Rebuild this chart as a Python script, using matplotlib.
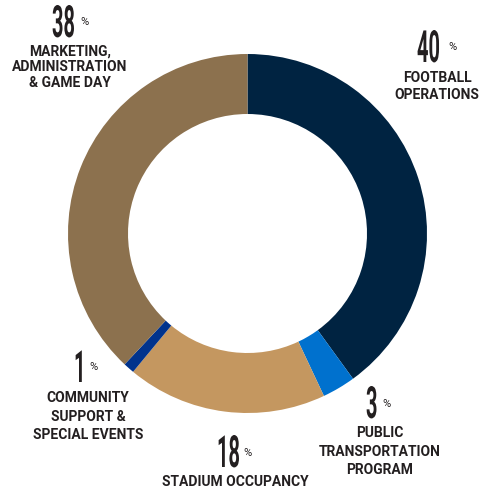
import numpy as np
import matplotlib
matplotlib.use('Agg')
from matplotlib import pyplot as plt
from matplotlib.patheffects import AbstractPathEffect
from matplotlib.transforms import Affine2D

# budget shares, clockwise from the top
shares = [40, 3, 18, 1, 38]
pct_labels = ['40', '3', '18', '1', '38']
names = ['FOOTBALL\nOPERATIONS',
         'PUBLIC\nTRANSPORTATION\nPROGRAM',
         'STADIUM OCCUPANCY',
         'COMMUNITY\nSUPPORT &\nSPECIAL EVENTS',
         'MARKETING,\nADMINISTRATION\n& GAME DAY']
colors = ['#002341', '#0071CE', '#C49760', '#00338D', '#8C714E']


class Stretch(AbstractPathEffect):
    # make glyphs tall and narrow-looking (no condensed display face installed)
    def __init__(self, sy):
        super().__init__()
        self.sy = sy

    def draw_path(self, renderer, gc, tpath, affine, rgbFace=None):
        renderer.draw_path(gc, tpath, Affine2D().scale(1, self.sy) + affine, rgbFace)


W, H = 492, 490
fig = plt.figure(figsize=(W/100, H/100), dpi=100)
ax = fig.add_axes([0, 0, 1, 1])

cx, cy, r_out, ring = 247.5, H-233.5, 179.5, 60
ax.pie(shares, colors=colors, startangle=90, counterclock=False,
       center=(cx, cy), radius=r_out,
       wedgeprops=dict(width=ring, linewidth=0))
ax.set_xlim(0, W)
ax.set_ylim(0, H)
ax.set_aspect('auto')
ax.axis('off')

txt_col = '#231F20'
# (number left edge, number bottom y, % x, label centre x, first line y, line step), pixels from top-left
spots = [(417, 62, 448, 437, 78, 17),
         (366, 418, 382, 380, 433, 18.5),
         (217, 467, 243, 235, 482, 18),
         (74, 382, 89, 88, 398, 18.5),
         (52, 37, 80, 70, 52, 15.5)]

for num, name, (nx, nb, px, lx, ly, step) in zip(pct_labels, names, spots):
    ax.text(nx, H-nb, num, ha='left', va='baseline', fontsize=14.4, fontweight='bold',
            family='Roboto', color=txt_col, path_effects=[Stretch(2.22)])
    ax.text(px, H-(nb-14.5), '%', ha='left', va='center', fontsize=8,
            family='Roboto', color=txt_col)
    for i, line in enumerate(name.split('\n')):
        ax.text(lx, H-(ly+i*step), line, ha='center', va='center', fontsize=10,
                fontweight='bold', family='Roboto', color=txt_col)

fig.savefig('out.png', dpi=100)
